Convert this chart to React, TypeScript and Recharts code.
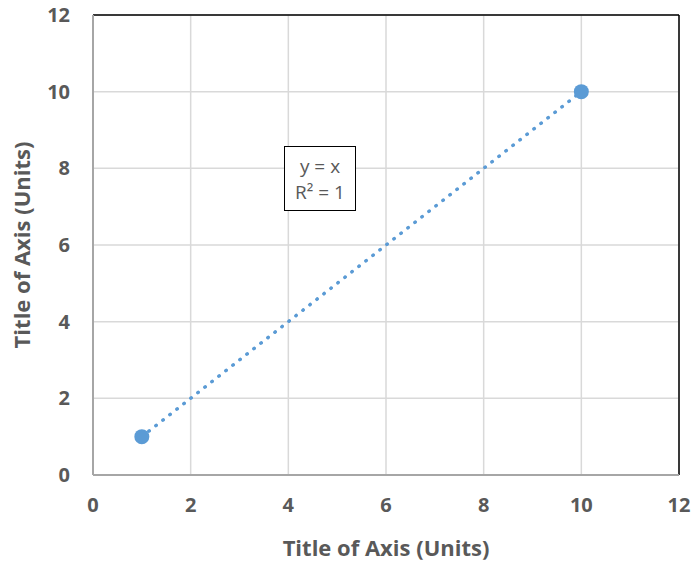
import React from "react";
import {
  ComposedChart,
  Line,
  Scatter,
  XAxis,
  YAxis,
  CartesianGrid,
  ReferenceLine,
  Label,
} from "recharts";

const xValues = [1, 10];
const yValues = [1, 10];
const trendX = [1, 10];
const trendY = [1, 10];
const xTicks = [0, 2, 4, 6, 8, 10, 12];
const yTicks = [0, 2, 4, 6, 8, 10, 12];
const axisTitleX = "Title of Axis (Units)";
const axisTitleY = "Title of Axis (Units)";
const equation = "y = x";
const rSquared = "R² = 1";

const FONT = "'Open Sans', Lato, sans-serif";
const BLUE = "#5b9bd5";
const GRAY_TEXT = "#595959";

const points = xValues.map((x, i) => ({ x, y: yValues[i] }));
const trend = trendX.map((x, i) => ({ x, t: trendY[i] }));

const tickStyle = { fill: GRAY_TEXT, fontSize: 20, fontWeight: 700, fontFamily: FONT };
const titleStyle = { fill: GRAY_TEXT, fontSize: 22, fontWeight: 700, fontFamily: FONT };

const App = () => {
  return (
    <div style={{ position: "absolute", left: 0, top: 0, width: 694, height: 563 }}>
      <ComposedChart
        width={694}
        height={563}
        margin={{ top: 15, right: 15, left: 0, bottom: 0 }}
      >
        <CartesianGrid stroke="#d9d9d9" strokeWidth={1.5} />
        <XAxis
          type="number"
          dataKey="x"
          domain={[0, 12]}
          ticks={xTicks}
          allowDuplicatedCategory={false}
          height={88}
          tickSize={0}
          tickMargin={23}
          tick={tickStyle}
          axisLine={{ stroke: "#a6a6a6", strokeWidth: 2 }}
        >
          <Label value={axisTitleX} position="insideBottom" offset={7} style={titleStyle} />
        </XAxis>
        <YAxis
          type="number"
          dataKey="y"
          domain={[0, 12]}
          ticks={yTicks}
          width={93}
          tickSize={0}
          tickMargin={23}
          tick={tickStyle}
          axisLine={{ stroke: "#a6a6a6", strokeWidth: 2 }}
        >
          <Label
            value={axisTitleY}
            angle={-90}
            position="insideLeft"
            offset={22}
            style={{ ...titleStyle, textAnchor: "middle" }}
          />
        </YAxis>
        <ReferenceLine y={12} stroke="#000" strokeWidth={1.5} />
        <ReferenceLine x={12} stroke="#000" strokeWidth={1.5} />
        <Line
          data={trend}
          dataKey="t"
          stroke={BLUE}
          strokeWidth={3.5}
          strokeDasharray="0.5 8.4"
          strokeLinecap="round"
          dot={false}
          activeDot={false}
          isAnimationActive={false}
        />
        <Scatter
          data={points}
          dataKey="y"
          fill={BLUE}
          shape={(p: any) => <circle cx={p.cx} cy={p.cy} r={7.5} fill={BLUE} />}
          isAnimationActive={false}
        />
      </ComposedChart>
      <div
        style={{
          position: "absolute",
          left: 284,
          top: 146,
          width: 70,
          height: 63,
          border: "1.5px solid #000",
          background: "#fff",
          color: GRAY_TEXT,
          fontFamily: FONT,
          fontSize: 19,
          lineHeight: "26px",
          textAlign: "center",
          display: "flex",
          flexDirection: "column",
          justifyContent: "center",
        }}
      >
        <div>{equation}</div>
        <div>{rSquared}</div>
      </div>
    </div>
  );
};

export default App;
